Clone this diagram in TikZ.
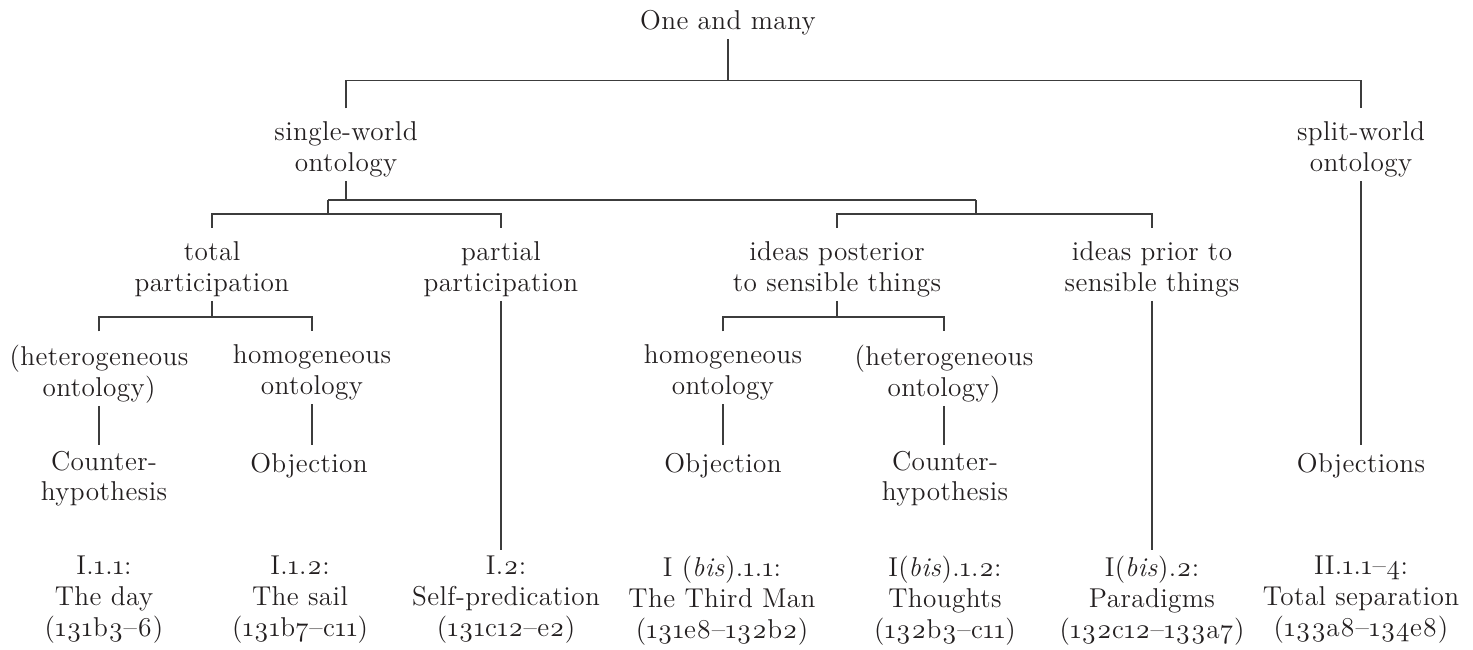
\documentclass[tikz,border=0pt]{standalone}
\usepackage{fontspec}
\setmainfont{lmroman12-regular.otf}[ItalicFont=lmroman12-italic.otf,BoldFont=lmroman12-bold.otf,Numbers=OldStyle,LetterSpace=1.5]
\definecolor{treeink}{HTML}{231F20}
\definecolor{treeline}{HTML}{3C3C3C}

\begin{document}
\begin{tikzpicture}[font=\fontsize{15.5}{17.6}\selectfont, color=treeink,
  lbl/.style={align=center, anchor=north, inner xsep=2pt, inner ysep=0pt,
    execute at begin node=\strut, execute at end node=\strut},
  root/.style={draw=treeline, line width=0.9pt},
  branch/.style={root, shorten <=7.5pt, shorten >=7.5pt},
  stem/.style={root, shorten >=3pt}]
  \useasboundingbox (0,0) rectangle (29.46,-13);
  % levels of the tree
  \node[lbl] (one) at (14.56,-0.15) {One and many};
  \node[lbl] (single) at (6.92,-2.43) {single-world\\ontology};
  \node[lbl] (split) at (27.22,-2.43) {split-world\\ontology};
  \node[lbl] (total) at (4.24,-4.82) {total\\participation};
  \node[lbl] (partial) at (10.02,-4.82) {partial\\participation};
  \node[lbl] (posterior) at (16.74,-4.82) {ideas posterior\\to sensible things};
  \node[lbl] (prior) at (23.04,-4.82) {ideas prior to\\sensible things};
  \node[lbl] (hetA) at (1.98,-6.89) {(heterogeneous\\ontology)};
  \node[lbl] (homA) at (6.24,-6.89) {homogeneous\\ontology};
  \node[lbl] (homB) at (14.46,-6.89) {homogeneous\\ontology};
  \node[lbl] (hetB) at (18.88,-6.89) {(heterogeneous\\ontology)};
  \node[lbl] (counterA) at (2.08,-9.01) {Counter-\\hypothesis};
  \node[lbl] (objA) at (6.18,-9.01) {Objection};
  \node[lbl] (objB) at (14.46,-9.01) {Objection};
  \node[lbl] (counterB) at (18.9,-9.01) {Counter-\\hypothesis};
  \node[lbl] (objs) at (27.22,-9.01) {Objections};
  % passages
  \node[lbl] (day) at (2.08,-11.11) {I.1.1:\\The day\\(131b3--6)};
  \node[lbl] (sail) at (6.0,-11.11) {I.1.2:\\The sail\\(131b7--c11)};
  \node[lbl] (selfpred) at (10.12,-11.11) {I.2:\\Self-predication\\(131c12--e2)};
  \node[lbl] (thirdman) at (14.44,-11.11) {I (\textit{bis}).1.1:\\The Third Man\\(131e8--132b2)};
  \node[lbl] (thoughts) at (18.9,-11.11) {I(\textit{bis}).1.2:\\Thoughts\\(132b3--c11)};
  \node[lbl] (paradigms) at (23.04,-11.11) {I(\textit{bis}).2:\\Paradigms\\(132c12--133a7)};
  \node[lbl] (separation) at (27.22,-11.11) {II.1.1--4:\\Total separation\\(133a8--134e8)};
  % bar heights
  \coordinate (b1) at (0,-1.61);
  \coordinate (pA) at (6.56,-4.0);
  \coordinate (pB) at (19.52,-4.0);
  \coordinate (b3) at (0,-4.28);
  \coordinate (b4) at (0,-6.34);
  \draw[root] (one.south) -- (one.south |- b1);
  \draw[branch] (single.north) -- (single.north |- b1) -- (split.north |- b1) -- (split.north);
  \draw[root] (single.south) -- (single.south |- pA);
  \draw[root] (pA) -- (pB);
  \draw[root] (pA) -- (pA |- b3);
  \draw[root] (pB) -- (pB |- b3);
  \draw[branch] (total.north) -- (total.north |- b3) -- (partial.north |- b3) -- (partial.north);
  \draw[branch] (posterior.north) -- (posterior.north |- b3) -- (prior.north |- b3) -- (prior.north);
  \draw[root] (total.south) -- (total.south |- b4);
  \draw[root] (posterior.south) -- (posterior.south |- b4);
  \draw[branch] (hetA.north) -- (hetA.north |- b4) -- (homA.north |- b4) -- (homA.north);
  \draw[branch] (homB.north) -- (homB.north |- b4) -- (hetB.north |- b4) -- (hetB.north);
  \draw[stem] (hetA.south) -- (hetA.south |- counterA.north);
  \draw[stem] (homA.south) -- (homA.south |- objA.north);
  \draw[stem] (homB.south) -- (homB.south |- objB.north);
  \draw[stem] (hetB.south) -- (hetB.south |- counterB.north);
  \draw[stem] (partial.south) -- (partial.south |- selfpred.north);
  \draw[stem] (prior.south) -- (prior.south |- paradigms.north);
  \draw[stem] (split.south) -- (split.south |- objs.north);
\end{tikzpicture}
\end{document}
